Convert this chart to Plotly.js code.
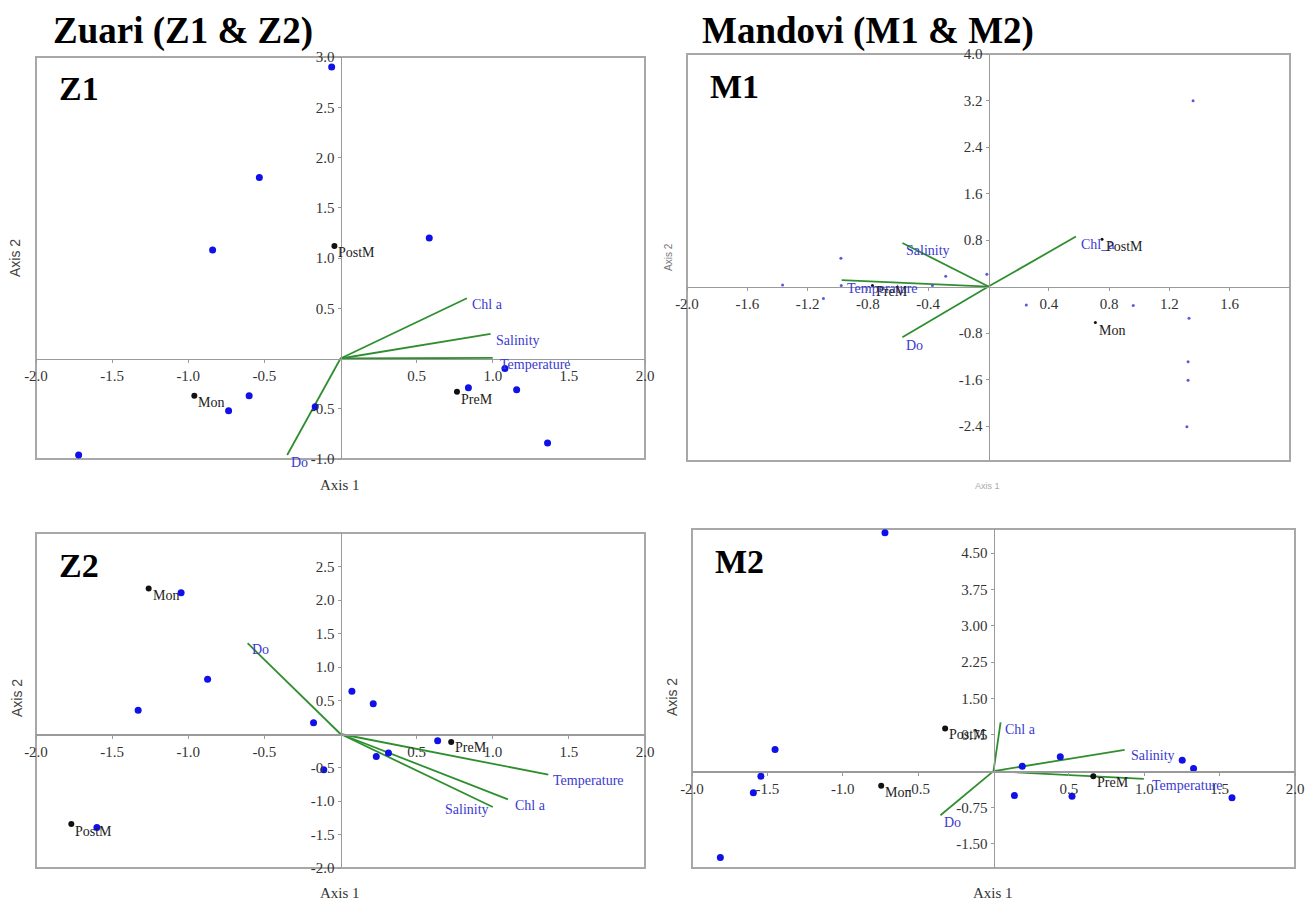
<!DOCTYPE html>
<html>
<head>
<meta charset="utf-8">
<script src="https://cdn.plot.ly/plotly-3.0.1.min.js"></script>
<style>html,body{margin:0;padding:0;background:#fff;}#chart{width:1310px;height:902px;}</style>
</head>
<body>
<div id="chart"></div>
<script>
// ---------------- DATA ----------------
// Z1
const z1_sx = [-0.058, -0.533, -0.84, 0.583, -1.72, -0.735, -0.60, -0.166, 0.84, 1.08, 1.157, 1.36];
const z1_sy = [2.90, 1.80, 1.08, 1.20, -0.96, -0.52, -0.37, -0.48, -0.29, -0.10, -0.31, -0.84];
const z1_groups = ['PostM', 'Mon', 'PreM'];
const z1_gx = [-0.04, -0.96, 0.765];
const z1_gy = [1.12, -0.37, -0.33];
const z1_vars = ['Chl a', 'Salinity', 'Temperature', 'Do'];
const z1_vx = [0.83, 0.986, 1.0, -0.35];
const z1_vy = [0.60, 0.245, 0.007, -0.96];

// M1
const m1_sx = [1.357, -0.979, -1.366, -1.095, -0.977, -0.284, -0.372, -0.011, 0.251, 0.960, 1.330, 1.324, 1.324, 1.316];
const m1_sy = [3.197, 0.488, 0.029, -0.207, 0.017, 0.178, 0.017, 0.212, -0.316, -0.327, -0.545, -1.291, -1.613, -2.410];
const m1_groups = ['PostM', 'Mon', 'PreM'];
const m1_gx = [0.753, 0.709, -0.77];
const m1_gy = [0.815, -0.62, 0.02];
const m1_vars = ['Chl_a', 'Salinity', 'Temperature', 'Do'];
const m1_vx = [0.58, -0.571, -0.974, -0.571];
const m1_vy = [0.86, 0.75, 0.11, -0.87];

// Z2
const z2_sx = [-1.047, -0.873, -1.329, 0.075, 0.215, -0.177, -0.11, 0.235, 0.315, 0.638, -1.60];
const z2_sy = [2.107, 0.817, 0.354, 0.637, 0.453, 0.169, -0.533, -0.334, -0.284, -0.10, -1.394];
const z2_groups = ['Mon', 'PreM', 'PostM'];
const z2_gx = [-1.26, 0.727, -1.768];
const z2_gy = [2.17, -0.12, -1.345];
const z2_vars = ['Do', 'Temperature', 'Chl a', 'Salinity'];
const z2_vx = [-0.61, 1.365, 1.10, 1.0];
const z2_vy = [1.355, -0.607, -0.976, -1.09];

// M2
const m2_sx = [-0.720, -1.449, -1.543, -1.593, -1.812, 0.191, 0.443, 0.139, 0.521, 1.252, 1.327, 1.582];
const m2_sy = [4.921, 0.448, -0.103, -0.448, -1.785, 0.103, 0.296, -0.503, -0.517, 0.227, 0.055, -0.551];
const m2_groups = ['PostM', 'Mon', 'PreM'];
const m2_gx = [-0.321, -0.745, 0.662];
const m2_gy = [0.882, -0.303, -0.103];
const m2_vars = ['Chl a', 'Salinity', 'Temperature', 'Do'];
const m2_vx = [0.047, 0.87, 0.997, -0.352];
const m2_vy = [1.006, 0.441, -0.159, -0.91];

// Tick values / labels
const zx_ticks = [-2, -1.5, -1, -0.5, 0.5, 1, 1.5, 2];
const zx_labels = ['-2.0', '-1.5', '-1.0', '-0.5', '0.5', '1.0', '1.5', '2.0'];
const z1y_ticks = [-1, -0.5, 0.5, 1, 1.5, 2, 2.5, 3];
const z1y_labels = ['-1.0', '-0.5', '0.5', '1.0', '1.5', '2.0', '2.5', '3.0'];
const m1x_ticks = [-2, -1.6, -1.2, -0.8, -0.4, 0.4, 0.8, 1.2, 1.6];
const m1x_labels = ['-2.0', '-1.6', '-1.2', '-0.8', '-0.4', '0.4', '0.8', '1.2', '1.6'];
const m1y_ticks = [-2.4, -1.6, -0.8, 0.8, 1.6, 2.4, 3.2, 4.0];
const m1y_labels = ['-2.4', '-1.6', '-0.8', '0.8', '1.6', '2.4', '3.2', '4.0'];
const z2y_ticks = [-2, -1.5, -1, -0.5, 0.5, 1, 1.5, 2, 2.5];
const z2y_labels = ['-2.0', '-1.5', '-1.0', '-0.5', '0.5', '1.0', '1.5', '2.0', '2.5'];
const m2y_ticks = [-1.5, -0.75, 0.75, 1.5, 2.25, 3.0, 3.75, 4.5];
const m2y_labels = ['-1.50', '-0.75', '0.75', '1.50', '2.25', '3.00', '3.75', '4.50'];

// ---------------- STYLE / LAYOUT ----------------
const W = 1310, H = 902;
const SERIF = 'Liberation Serif, Times New Roman, serif';
const SANS = 'Liberation Sans, Arial, sans-serif';
const GREEN = '#2f8f2f';
const VLAB = '#3a3ad0';

function px2x(p) { return p / W; }
function py2y(p) { return 1 - p / H; }

const panels = [
  { key: '', name: 'Z1', box: [36, 645, 57, 459], xr: [-2, 2], yr: [-1, 3],
    xt: zx_ticks, xl: zx_labels, yt: z1y_ticks, yl: z1y_labels,
    sx: z1_sx, sy: z1_sy, g: z1_groups, gx: z1_gx, gy: z1_gy, v: z1_vars, vx: z1_vx, vy: z1_vy,
    ms: 7, gs: 6, scol: '#1010e8',
    vdx: [3, 3, 5, 2], vdy: [-6, -7, -7, -8], vanc: ['left', 'left', 'left', 'left'],
    gdx: [2, 2, 2], gdy: [-7, -7, -8] },
  { key: '2', name: 'M1', box: [687, 1290, 54, 461], xr: [-2, 2], yr: [-3, 4],
    xt: m1x_ticks, xl: m1x_labels, yt: m1y_ticks, yl: m1y_labels,
    sx: m1_sx, sy: m1_sy, g: m1_groups, gx: m1_gx, gy: m1_gy, v: m1_vars, vx: m1_vx, vy: m1_vy,
    ms: 3, gs: 3, scol: '#5a5ad8',
    vdx: [3, 2, 3, 2], vdy: [-8, -8, -8, -8], vanc: ['left', 'left', 'left', 'left'],
    gdx: [2, 2, 2], gdy: [-7, -8, -6] },
  { key: '3', name: 'Z2', box: [36, 645, 533, 868], xr: [-2, 2], yr: [-2, 3],
    xt: zx_ticks, xl: zx_labels, yt: z2y_ticks, yl: z2y_labels,
    sx: z2_sx, sy: z2_sy, g: z2_groups, gx: z2_gx, gy: z2_gy, v: z2_vars, vx: z2_vx, vy: z2_vy,
    ms: 7, gs: 6, scol: '#1010e8',
    vdx: [2, 3, 5, -2], vdy: [-6, -6, -6, -2], vanc: ['left', 'left', 'left', 'right'],
    gdx: [2, 2, 2], gdy: [-7, -5, -7] },
  { key: '4', name: 'M2', box: [692, 1295, 529, 868], xr: [-2, 2], yr: [-2, 5],
    xt: zx_ticks, xl: zx_labels, yt: m2y_ticks, yl: m2y_labels,
    sx: m2_sx, sy: m2_sy, g: m2_groups, gx: m2_gx, gy: m2_gy, v: m2_vars, vx: m2_vx, vy: m2_vy,
    ms: 7, gs: 6, scol: '#1010e8',
    vdx: [2, 4, 6, 2], vdy: [-7, -6, -7, -7], vanc: ['left', 'left', 'left', 'left'],
    gdx: [2, 2, 2], gdy: [-6, -7, -6] }
];

const data = [];
const layout = {
  width: W, height: H, autosize: false,
  margin: { l: 0, r: 0, t: 0, b: 0, pad: 0 },
  paper_bgcolor: '#fff', plot_bgcolor: '#fff',
  showlegend: false,
  shapes: [], annotations: []
};

panels.forEach(p => {
  const xd = [px2x(p.box[0]), px2x(p.box[1])];
  const yd = [py2y(p.box[3]), py2y(p.box[2])];
  const xpos = yd[0] + (0 - p.yr[0]) / (p.yr[1] - p.yr[0]) * (yd[1] - yd[0]);
  const ypos = xd[0] + (0 - p.xr[0]) / (p.xr[1] - p.xr[0]) * (xd[1] - xd[0]);
  const xa = 'xaxis' + p.key, ya = 'yaxis' + p.key;
  const xr = 'x' + p.key, yr = 'y' + p.key;
  const tickfont = { family: SERIF, size: 15, color: '#333' };
  layout[xa] = { domain: xd, range: p.xr, anchor: 'free', position: xpos,
    showline: true, linecolor: '#9a9a9a', linewidth: 1.5, ticks: 'outside', ticklen: 3,
    tickcolor: '#9a9a9a', tickvals: p.xt, ticktext: p.xl, tickfont: tickfont,
    showgrid: false, zeroline: false, fixedrange: true };
  layout[ya] = { domain: yd, range: p.yr, anchor: 'free', position: ypos,
    showline: true, linecolor: '#9a9a9a', linewidth: 1.5, ticks: 'outside', ticklen: 3,
    tickcolor: '#9a9a9a', tickvals: p.yt, ticktext: p.yl, tickfont: tickfont,
    showgrid: false, zeroline: false, fixedrange: true };
  // frame
  layout.shapes.push({ type: 'rect', xref: xr + ' domain', yref: yr + ' domain',
    x0: 0, x1: 1, y0: 0, y1: 1, line: { color: '#a8a8a8', width: 2 }, layer: 'below' });

  // vectors
  const lx = [], ly = [];
  p.vx.forEach((v, i) => { lx.push(0, v, null); ly.push(0, p.vy[i], null); });
  data.push({ type: 'scatter', mode: 'lines', x: lx, y: ly, xaxis: xr, yaxis: yr,
    line: { color: GREEN, width: 1.8 }, hoverinfo: 'skip' });
  // sample points
  data.push({ type: 'scatter', mode: 'markers', x: p.sx, y: p.sy, xaxis: xr, yaxis: yr,
    marker: { color: p.scol, size: p.ms }, hoverinfo: 'skip' });
  // group centroids
  data.push({ type: 'scatter', mode: 'markers', x: p.gx, y: p.gy, xaxis: xr, yaxis: yr,
    marker: { color: '#111', size: p.gs }, hoverinfo: 'skip' });

  p.v.forEach((name, i) => {
    layout.annotations.push({ xref: xr, yref: yr, x: p.vx[i], y: p.vy[i], text: name,
      showarrow: false, xanchor: p.vanc[i], yanchor: 'middle', xshift: p.vdx[i], yshift: p.vdy[i],
      font: { family: SERIF, size: 14, color: VLAB } });
  });
  p.g.forEach((name, i) => {
    layout.annotations.push({ xref: xr, yref: yr, x: p.gx[i], y: p.gy[i], text: name,
      showarrow: false, xanchor: 'left', yanchor: 'middle', xshift: p.gdx[i], yshift: p.gdy[i],
      font: { family: SERIF, size: 14, color: '#222' } });
  });
  // panel letter
  layout.annotations.push({ xref: 'paper', yref: 'paper', x: px2x(p.box[0] + 21), y: py2y(p.box[2] + 32),
    text: '<b>' + p.name + '</b>', showarrow: false, xanchor: 'left', yanchor: 'middle',
    font: { family: SERIF, size: 34, color: '#000' } });
});

// main titles
layout.annotations.push({ xref: 'paper', yref: 'paper', x: px2x(51), y: py2y(31),
  text: '<b>Zuari (Z1 &amp; Z2)</b>', showarrow: false, xanchor: 'left', yanchor: 'middle',
  font: { family: SERIF, size: 37, color: '#000' } });
layout.annotations.push({ xref: 'paper', yref: 'paper', x: px2x(700), y: py2y(31),
  text: '<b>Mandovi (M1 &amp; M2)</b>', showarrow: false, xanchor: 'left', yanchor: 'middle',
  font: { family: SERIF, size: 37, color: '#000' } });

// axis titles
function axTitle(text, x, y, angle, family, size, color) {
  layout.annotations.push({ xref: 'paper', yref: 'paper', x: px2x(x), y: py2y(y), text: text,
    showarrow: false, xanchor: 'center', yanchor: 'middle', textangle: angle,
    font: { family: family, size: size, color: color } });
}
axTitle('Axis 1', 340, 485, 0, SERIF, 15, '#333');
axTitle('Axis 2', 15, 258, -90, SANS, 14, '#444');
axTitle('Axis 1', 987, 486, 0, SANS, 9, '#aaa');
axTitle('Axis 2', 668, 257, -90, SANS, 10, '#777');
axTitle('Axis 1', 340, 893, 0, SERIF, 15, '#333');
axTitle('Axis 2', 17, 698, -90, SANS, 14, '#444');
axTitle('Axis 1', 993, 893, 0, SERIF, 15, '#333');
axTitle('Axis 2', 672, 697, -90, SANS, 14, '#444');

Plotly.newPlot('chart', data, layout, { staticPlot: true, displayModeBar: false });
</script>
</body>
</html>
